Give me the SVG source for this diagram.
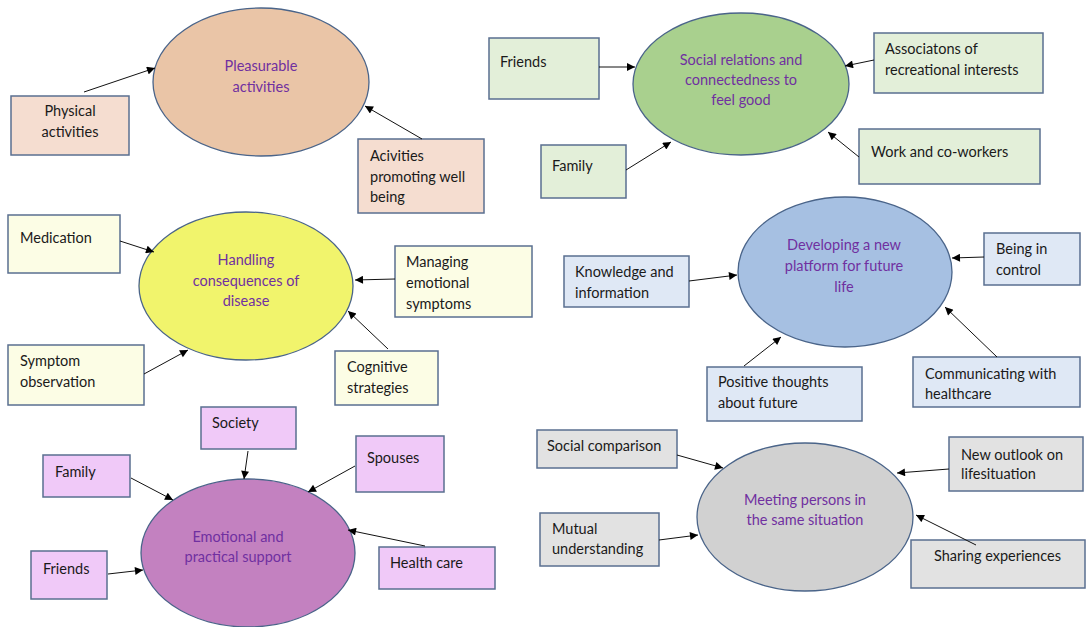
<svg xmlns="http://www.w3.org/2000/svg" width="1088" height="627" viewBox="0 0 1088 627">
<style>
  .el { stroke:#4a6489; stroke-width:1.3; }
  .bx { stroke:#5a6f90; stroke-width:1.5; }
  .et { font-family:Lato,"Liberation Sans",sans-serif; font-size:14.5px; fill:#7030a0; text-anchor:middle; }
  .bt { font-family:Lato,"Liberation Sans",sans-serif; font-size:14.5px; fill:#1a1a1a; }
  .btc { font-family:Lato,"Liberation Sans",sans-serif; font-size:14.5px; fill:#1a1a1a; text-anchor:middle; }
  .cn line { stroke:#111; stroke-width:1; marker-end:url(#ah); }
  .peach { fill:#eac5a7; } .peachb { fill:#f5ddd0; }
  .green { fill:#a9d08e; } .greenb { fill:#e3efd9; }
  .yel { fill:#f1f46c; } .yelb { fill:#fcfde5; }
  .blue { fill:#a6c0e2; } .blueb { fill:#dfe8f5; }
  .purp { fill:#c381c0; } .purpb { fill:#f0c9f8; }
  .grey { fill:#d1d1d1; } .greyb { fill:#e2e2e2; }
</style>
<defs>
  <marker id="ah" viewBox="0 0 10 10" refX="10" refY="5" markerWidth="10" markerHeight="8" markerUnits="userSpaceOnUse" orient="auto">
    <path d="M0,0 L10,5 L0,10 z" fill="#000"/>
  </marker>
</defs>
<rect width="1088" height="627" fill="#fff"/>

<!-- Pleasurable activities -->
<g id="pleasurable">
  <ellipse class="el peach" cx="261" cy="82" rx="108" ry="74"/>
  <text class="et" x="261" y="71">Pleasurable</text>
  <text class="et" x="261" y="92">activities</text>
</g>
<g id="physical">
  <rect class="bx peachb" x="11" y="96" width="118" height="59"/>
  <text class="btc" x="70" y="116">Physical</text>
  <text class="btc" x="70" y="137">activities</text>
</g>
<g id="acivities">
  <rect class="bx peachb" x="358" y="139" width="126" height="74"/>
  <text class="bt" x="370" y="161">Acivities</text>
  <text class="bt" x="370" y="182">promoting well</text>
  <text class="bt" x="370" y="202">being</text>
</g>

<!-- Social relations -->
<g id="social">
  <ellipse class="el green" cx="741" cy="84" rx="108" ry="71"/>
  <text class="et" x="741" y="65">Social relations and</text>
  <text class="et" x="741" y="85">connectedness to</text>
  <text class="et" x="741" y="105">feel good</text>
</g>
<g id="friends1">
  <rect class="bx greenb" x="489" y="38" width="110" height="61"/>
  <text class="bt" x="500" y="67">Friends</text>
</g>
<g id="family1">
  <rect class="bx greenb" x="541" y="145" width="85" height="53"/>
  <text class="bt" x="552" y="171">Family</text>
</g>
<g id="associatons">
  <rect class="bx greenb" x="874" y="33" width="169" height="60"/>
  <text class="bt" x="885" y="54">Associatons of</text>
  <text class="bt" x="885" y="75">recreational interests</text>
</g>
<g id="work">
  <rect class="bx greenb" x="859" y="129" width="181" height="55"/>
  <text class="bt" x="871" y="157">Work and co-workers</text>
</g>

<!-- Handling consequences -->
<g id="handling">
  <ellipse class="el yel" cx="246" cy="286" rx="107" ry="74"/>
  <text class="et" x="246" y="265">Handling</text>
  <text class="et" x="246" y="286">consequences of</text>
  <text class="et" x="246" y="306">disease</text>
</g>
<g id="medication">
  <rect class="bx yelb" x="8" y="215" width="112" height="58"/>
  <text class="bt" x="20" y="243">Medication</text>
</g>
<g id="managing">
  <rect class="bx yelb" x="395" y="246" width="137" height="71"/>
  <text class="bt" x="406" y="267">Managing</text>
  <text class="bt" x="406" y="288">emotional</text>
  <text class="bt" x="406" y="309">symptoms</text>
</g>
<g id="symptom">
  <rect class="bx yelb" x="8" y="345" width="136" height="60"/>
  <text class="bt" x="20" y="366">Symptom</text>
  <text class="bt" x="20" y="387">observation</text>
</g>
<g id="cognitive">
  <rect class="bx yelb" x="335" y="351" width="103" height="54"/>
  <text class="bt" x="347" y="372">Cognitive</text>
  <text class="bt" x="347" y="393">strategies</text>
</g>

<!-- Developing new platform -->
<g id="developing">
  <ellipse class="el blue" cx="845" cy="272" rx="107" ry="75"/>
  <text class="et" x="844" y="250">Developing a new</text>
  <text class="et" x="844" y="271">platform for future</text>
  <text class="et" x="844" y="292">life</text>
</g>
<g id="knowledge">
  <rect class="bx blueb" x="564" y="256" width="125" height="51"/>
  <text class="bt" x="575" y="277">Knowledge and</text>
  <text class="bt" x="575" y="298">information</text>
</g>
<g id="control">
  <rect class="bx blueb" x="984" y="233" width="96" height="52"/>
  <text class="bt" x="996" y="254">Being in</text>
  <text class="bt" x="996" y="275">control</text>
</g>
<g id="positive">
  <rect class="bx blueb" x="707" y="367" width="155" height="54"/>
  <text class="bt" x="718" y="387">Positive thoughts</text>
  <text class="bt" x="718" y="408">about future</text>
</g>
<g id="communicating">
  <rect class="bx blueb" x="913" y="357" width="167" height="50"/>
  <text class="bt" x="925" y="379">Communicating with</text>
  <text class="bt" x="925" y="399">healthcare</text>
</g>

<!-- Emotional and practical support -->
<g id="emotional">
  <ellipse class="el purp" cx="248" cy="553" rx="107" ry="74"/>
  <text class="et" x="238" y="542">Emotional and</text>
  <text class="et" x="238" y="562">practical support</text>
</g>
<g id="society">
  <rect class="bx purpb" x="201" y="407" width="95" height="42"/>
  <text class="bt" x="212" y="428">Society</text>
</g>
<g id="family2">
  <rect class="bx purpb" x="43" y="455" width="87" height="42"/>
  <text class="bt" x="55" y="477">Family</text>
</g>
<g id="spouses">
  <rect class="bx purpb" x="356" y="436" width="88" height="56"/>
  <text class="bt" x="367" y="463">Spouses</text>
</g>
<g id="friends2">
  <rect class="bx purpb" x="31" y="551" width="76" height="48"/>
  <text class="bt" x="43" y="574">Friends</text>
</g>
<g id="healthcare">
  <rect class="bx purpb" x="379" y="547" width="116" height="42"/>
  <text class="bt" x="390" y="568">Health care</text>
</g>

<!-- Meeting persons -->
<g id="meeting">
  <ellipse class="el grey" cx="805" cy="517" rx="108" ry="74"/>
  <text class="et" x="805" y="505">Meeting persons in</text>
  <text class="et" x="805" y="525">the same situation</text>
</g>
<g id="comparison">
  <rect class="bx greyb" x="537" y="430" width="140" height="38"/>
  <text class="bt" x="547" y="451">Social comparison</text>
</g>
<g id="mutual">
  <rect class="bx greyb" x="540" y="513" width="119" height="53"/>
  <text class="bt" x="552" y="534">Mutual</text>
  <text class="bt" x="552" y="554">understanding</text>
</g>
<g id="outlook">
  <rect class="bx greyb" x="949" y="437" width="134" height="54"/>
  <text class="bt" x="961" y="460">New outlook on</text>
  <text class="bt" x="961" y="479">lifesituation</text>
</g>
<g id="sharing">
  <rect class="bx greyb" x="911" y="540" width="174" height="48"/>
  <text class="bt" x="934" y="561">Sharing experiences</text>
</g>

<g class="cn" id="connectors">
  <line x1="84" y1="92" x2="155" y2="68"/>
  <line x1="422" y1="139" x2="365" y2="106"/>
  <line x1="599" y1="67" x2="635" y2="67"/>
  <line x1="626" y1="170" x2="671" y2="142"/>
  <line x1="874" y1="60" x2="845" y2="66"/>
  <line x1="859" y1="157" x2="828" y2="132"/>
  <line x1="120" y1="241" x2="154" y2="252"/>
  <line x1="395" y1="279" x2="355" y2="280"/>
  <line x1="144" y1="374" x2="188" y2="350"/>
  <line x1="388" y1="349" x2="348" y2="311"/>
  <line x1="689" y1="281" x2="737" y2="275"/>
  <line x1="984" y1="257" x2="952" y2="258"/>
  <line x1="744" y1="366" x2="781" y2="337"/>
  <line x1="997" y1="357" x2="945" y2="307"/>
  <line x1="248" y1="451" x2="244" y2="479"/>
  <line x1="131" y1="478" x2="173" y2="500"/>
  <line x1="355" y1="466" x2="308" y2="492"/>
  <line x1="108" y1="574" x2="143" y2="570"/>
  <line x1="425" y1="546" x2="348" y2="530"/>
  <line x1="677" y1="455" x2="723" y2="468"/>
  <line x1="659" y1="540" x2="698" y2="535"/>
  <line x1="949" y1="469" x2="897" y2="473"/>
  <line x1="976" y1="545" x2="916" y2="515"/>
</g>
</svg>
